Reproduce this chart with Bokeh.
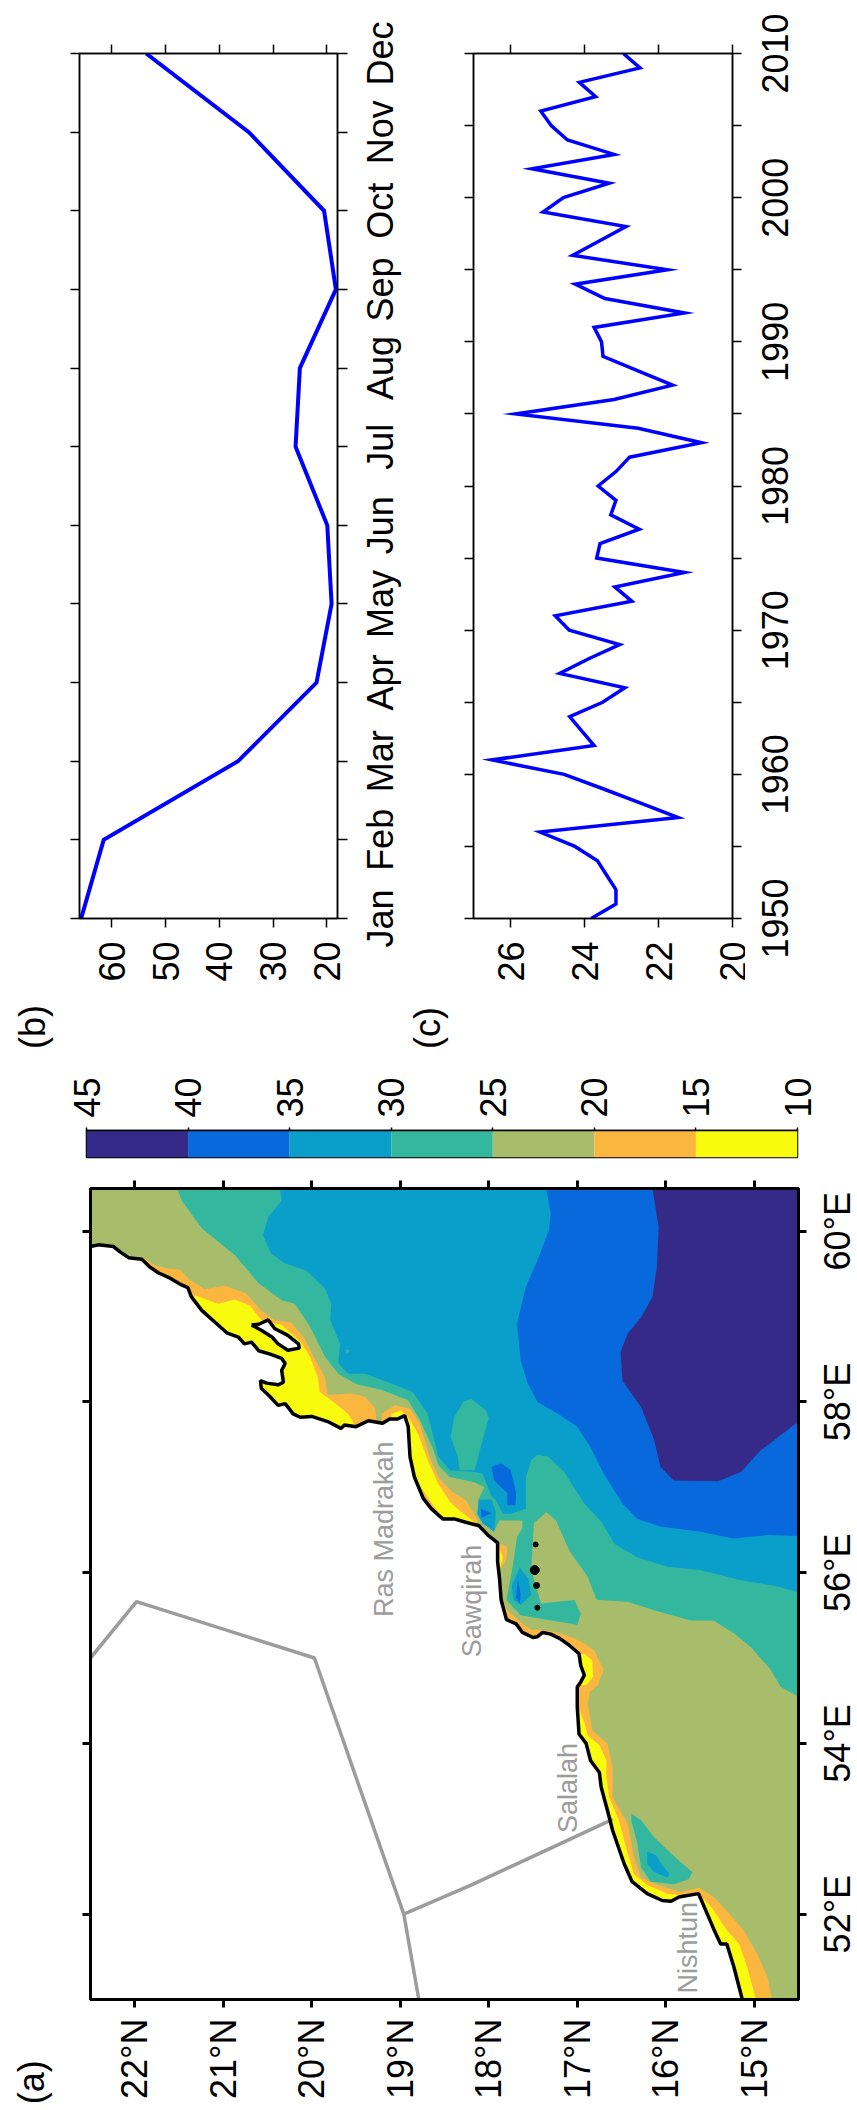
from math import pi
from bokeh.plotting import figure
from bokeh.models import LinearAxis, FixedTicker, Range1d, Label
from bokeh.layouts import column, row
from bokeh.core.properties import value
from bokeh.embed import file_html
from bokeh.resources import INLINE

# ---------- series ----------
months = ["Jan","Feb","Mar","Apr","May","Jun","Jul","Aug","Sep","Oct","Nov","Dec"]
month_idx = list(range(1, 13))
monthly = [65.7, 61.5, 36.5, 21.9, 19.1, 19.9, 25.8, 25.0, 18.3, 20.5, 34.5, 53.6]

years = list(range(1950, 2011))
annual = [23.82, 23.15, 23.15, 23.40, 23.65, 24.26, 25.20, 21.47, 22.48, 23.50,
          24.55, 26.50, 23.74, 24.07, 24.40, 23.51, 22.91, 24.67, 23.90, 23.05,
          24.41, 24.79, 22.72, 23.18, 21.30, 23.67, 23.58, 22.52, 23.29, 23.15,
          23.63, 23.15, 22.78, 20.84, 22.55, 25.86, 23.20, 21.62, 22.57, 23.50,
          23.54, 23.74, 21.30, 23.45, 24.25, 21.76, 24.32, 23.60, 22.88, 25.12,
          24.57, 23.33, 25.42, 23.20, 24.46, 24.90, 25.18, 23.70, 24.14, 22.50, 22.95]

# ---------- colour levels ----------
levels = [45, 40, 35, 30, 25, 20, 15, 10]
c_purple, c_blue2, c_blue1, c_teal, c_olive, c_orange, c_yellow = (
    "#352a87", "#0769dc", "#0a9ecb", "#33b79f", "#a7bd6b", "#fbb63f", "#f9fb0e")
level_colors = [c_purple, c_blue2, c_blue1, c_teal, c_olive, c_orange, c_yellow]

# ---------- map: (lat, lon) outlines ----------
coast = [(22.5,59.82),(22.41,59.84),(22.24,59.82),(22.17,59.76),(22.07,59.69),(21.92,59.67),(21.83,59.58),
 (21.73,59.51),(21.62,59.46),(21.49,59.38),(21.40,59.34),(21.36,59.23),(21.24,59.07),(21.09,58.93),
 (20.96,58.81),(20.83,58.76),(20.76,58.68),(20.68,58.70),(20.60,58.60),(20.47,58.56),(20.34,58.51),
 (20.30,58.45),(20.34,58.37),(20.32,58.23),(20.38,58.20),(20.51,58.22),(20.58,58.25),(20.57,58.16),
 (20.47,58.06),(20.38,57.96),(20.30,57.98),(20.21,57.86),(20.13,57.82),(20.00,57.83),(19.82,57.77),
 (19.67,57.69),(19.63,57.73),(19.50,57.71),(19.36,57.78),(19.20,57.75),(19.12,57.80),(19.03,57.80),
 (18.95,57.84),(18.91,57.71),(18.89,57.36),(18.84,57.12),(18.74,56.87),(18.65,56.75),(18.52,56.63),
 (18.39,56.63),(18.26,56.59),(18.11,56.55),(18.01,56.44),(17.90,56.35),(17.90,56.13),(17.88,55.95),
 (17.86,55.68),(17.80,55.45),(17.69,55.40),(17.62,55.30),(17.50,55.24),(17.45,55.25),(17.39,55.30),
 (17.30,55.28),(17.20,55.23),(17.09,55.15),(16.98,55.05),(16.96,54.91),(16.92,54.80),(16.96,54.72),
 (17.00,54.66),(17.00,54.43),(16.98,54.11),(16.90,54.00),(16.85,53.80),(16.75,53.66),(16.73,53.49),
 (16.66,53.22),(16.60,52.98),(16.47,52.59),(16.38,52.38),(16.21,52.24),(16.04,52.16),(15.94,52.15),
 (15.85,52.20),(15.63,52.24),(15.53,52.00),(15.46,51.83),(15.38,51.65),(15.31,51.65),(15.23,51.38),
 (15.14,51.02),(15.13,51.0)]
land_close = [(22.5,51.0)]
island = [(20.68,58.90),(20.60,58.91),(20.49,58.96),(20.42,58.86),(20.27,58.78),(20.15,58.68),(20.14,58.63),
 (20.27,58.605),(20.38,58.68),(20.45,58.76),(20.57,58.84),(20.66,58.89),(20.68,58.90)]

teal_main = [(21.52,60.5),(21.47,60.36),(21.24,60.03),(20.87,59.72),(20.60,59.39),(20.34,59.19),(20.19,59.15),
 (20.02,58.88),(19.85,58.53),(19.70,58.33),(19.50,58.21),(19.21,58.14),(18.91,58.02),(18.78,57.79),
 (18.63,57.45),(18.57,57.26),(18.44,57.12),(18.16,57.06),(18.05,57.00),(18.12,56.85),(18.11,56.65),
 (17.94,56.48),(17.88,56.61),(17.62,56.61),(17.62,56.52),(17.68,56.42),(17.73,56.07),(17.80,55.68),
 (17.64,55.50),(17.41,55.46),(17.0,55.39),(16.96,55.52),(17.03,55.68),(17.41,55.64),(17.52,56.03),
 (17.49,56.58),(17.35,56.71),(17.24,56.61),(17.09,56.26),(16.88,55.95),(16.79,55.70),(16.77,55.68),
 (16.43,55.66),(16.13,55.56),(15.72,55.44),(15.46,55.44),(15.23,55.29),(15.04,55.13),(14.82,54.87),
 (14.70,54.66),(14.5,54.55),(14.5,60.5)]
blue1_main = [(20.36,60.5),(20.34,60.36),(20.49,60.17),(20.55,59.95),(20.46,59.74),(20.30,59.62),(20.06,59.54),
 (19.85,59.33),(19.78,59.15),(19.79,58.96),(19.68,58.68),(19.70,58.45),(19.59,58.33),(19.40,58.33),
 (19.06,58.20),(18.86,58.12),(18.69,57.86),(18.57,57.36),(18.44,57.20),(18.16,57.18),(18.07,57.16),
 (17.97,56.90),(17.92,56.85),(17.84,56.69),(17.75,56.69),(17.58,56.75),(17.58,57.12),(17.52,57.32),
 (17.45,57.38),(17.33,57.36),(17.15,57.18),(16.92,56.81),(16.73,56.60),(16.58,56.34),(16.32,56.18),
 (15.98,56.07),(15.61,56.03),(15.15,55.91),(14.78,55.85),(14.5,55.77),(14.5,60.5)]
blue2_main = [(17.35,60.5),(17.30,60.21),(17.32,60.01),(17.45,59.66),(17.58,59.35),(17.68,58.92),(17.64,58.49),
 (17.56,58.22),(17.45,58.0),(17.22,57.86),(17.0,57.71),(16.85,57.47),(16.70,57.16),(16.49,56.81),
 (16.32,56.63),(16.06,56.54),(15.61,56.48),(15.23,56.40),(14.85,56.44),(14.5,56.43),(14.5,60.5)]
purple_main = [(16.15,60.5),(16.08,60.05),(16.10,59.58),(16.15,59.23),(16.28,58.99),(16.43,58.80),(16.51,58.59),
 (16.49,58.25),(16.28,57.94),(16.13,57.55),(16.06,57.24),(15.91,57.08),(15.41,57.07),(15.15,57.18),
 (14.93,57.43),(14.5,57.77),(14.5,60.5)]

teal_blob = [(18.20,58.04),(18.03,57.90),(18.0,57.81),(18.07,57.55),(18.16,57.20),(18.33,57.20),(18.35,57.36),
 (18.43,57.59),(18.39,57.82),(18.29,58.0)]
teal_dot = [(19.61,58.62),(19.56,58.60),(19.61,58.57)]
teal_salalah = [(16.39,53.18),(16.28,53.10),(16.13,52.90),(15.94,52.71),(15.70,52.49),(15.74,52.41),(15.91,52.35),
 (16.17,52.38),(16.28,52.55),(16.32,52.82),(16.39,53.10)]
blue1_salalah = [(16.21,52.73),(16.11,52.69),(16.04,52.57),(15.96,52.47),(15.98,52.43),(16.13,52.49),(16.21,52.59)]
blue1_cape = [(18.11,56.85),(17.97,56.86),(17.92,56.71),(17.94,56.48),(18.07,56.58),(18.13,56.69)]
blue2_cape = [(18.09,56.75),(17.97,56.70),(18.08,56.64)]
blue2_blob = [(17.97,57.24),(17.86,57.28),(17.75,57.20),(17.69,56.93),(17.70,56.79),(17.79,56.79),(17.79,56.93),(17.94,57.08)]
blue1_bay = [(17.65,56.06),(17.55,55.93),(17.52,55.74),(17.64,55.62),(17.72,55.68),(17.74,55.85)]
blue2_bay = [(17.67,55.93),(17.64,55.74),(17.65,55.64),(17.69,55.71)]

orange_a = [(21.90,59.69),(21.77,59.60),(21.62,59.56),(21.49,59.55),(21.38,59.43),(21.21,59.32),(20.98,59.36),
 (20.74,59.27),(20.57,59.07),(20.42,58.96),(20.23,58.93),(20.08,58.74),(19.98,58.53),(19.85,58.29),
 (19.82,58.08),(19.55,58.10),(19.40,58.06),(19.29,57.94),(19.27,57.84),(19.3,57.5),(20.5,57.5),(22.0,59.4)]
orange_b = [(19.21,57.86),(19.06,57.96),(18.89,57.92),(18.78,57.75),(18.67,57.36),(18.57,57.12),(18.42,56.95),
 (18.26,56.85),(18.12,56.61),(18.3,56.3),(19.2,57.5)]
orange_c = [(17.87,56.34),(17.79,56.30),(17.80,56.16),(17.86,56.05),(18.0,56.2)]
orange_d = [(17.84,55.64),(17.77,55.54),(17.64,55.42),(17.52,55.33),(17.41,55.33),(17.22,55.30),(17.03,55.23),
 (16.92,55.17),(16.81,55.09),(16.70,54.86),(16.77,54.68),(16.86,54.60),(16.88,54.46),(16.83,54.15),
 (16.66,54.00),(16.60,53.72),(16.60,53.37),(16.43,53.06),(16.36,52.67),(16.28,52.43),(16.09,52.34),
 (15.83,52.26),(15.62,52.31),(15.46,52.20),(15.31,52.04),(15.12,51.81),(14.97,51.54),(14.85,51.26),
 (14.80,51.0),(15.5,51.0),(16.5,52.5),(17.3,54.0),(18.0,55.6)]
yellow_a = [(21.32,59.25),(21.06,59.15),(20.87,59.20),(20.70,59.13),(20.57,58.96),(20.34,58.90),(20.12,58.70),
 (20.02,58.53),(19.93,58.29),(19.91,58.12),(19.78,58.02),(19.59,57.86),(19.53,57.76),(19.5,57.5),(20.5,57.5),(21.4,59.0)]
yellow_b = [(19.10,57.86),(18.99,57.90),(18.91,57.82),(18.80,57.63),(18.69,57.32),(18.57,57.04),(18.44,56.83),
 (18.31,56.71),(18.16,56.59),(18.3,56.3),(19.1,57.5)]
yellow_c = [(17.88,56.28),(17.84,56.18),(17.87,56.07),(18.0,56.2)]
yellow_d = [(16.92,55.05),(16.83,54.97),(16.82,54.78),(16.90,54.68),(17.2,54.7),(17.2,55.0)]
yellow_e = [(16.98,54.41),(16.92,54.25),(16.88,54.09),(16.75,53.98),(16.67,53.80),(16.67,53.61),(16.64,53.37),
 (16.53,53.10),(16.45,52.79),(16.36,52.47),(16.21,52.34),(15.98,52.24),(15.83,52.22),(15.9,52.0),(16.5,52.3),(17.0,54.0)]
yellow_f = [(15.57,52.18),(15.47,52.06),(15.31,51.81),(15.17,51.65),(15.08,51.38),(14.98,51.0),(15.5,51.0),(15.6,52.0)]

border_main = [(22.5,55.0),(21.98,55.66),(19.97,55.0),(18.96,52.0),(18.79,51.0)]
border_branch = [(18.96,52.0),(18.2,52.34),(16.60,53.11)]

isle_lat = [17.47, 17.48, 17.46, 17.45]
isle_lon = [56.33, 56.03, 55.85, 55.59]
isle_size = [5, 9, 6, 5]

place_names = ["Ras Madrakah", "Sawqirah", "Salalah", "Nishtun"]
place_lat = [19.18, 18.19, 17.11, 15.75]
place_lon = [55.48, 55.01, 52.95, 51.07]

lat_ticks = [22, 21, 20, 19, 18, 17, 16, 15]
lon_ticks = [60, 58, 56, 54, 52]

FONT = "Liberation Sans"
FS = "36px"
GRAY = "#9c9c9c"


def make_axis(cls_ticks, labels, width, tick, standoff):
    ax = LinearAxis(ticker=FixedTicker(ticks=cls_ticks))
    ax.major_tick_in = 0
    ax.major_tick_out = tick
    ax.minor_tick_line_color = None
    ax.axis_line_width = width
    ax.major_tick_line_width = width
    ax.axis_line_color = "black"
    ax.major_tick_line_color = "black"
    ax.major_label_text_font = FONT
    ax.major_label_text_font_size = FS
    ax.major_label_text_color = "black"
    ax.major_label_orientation = pi / 2
    ax.major_label_standoff = standoff
    ax.major_label_overrides = {t: labels.get(t, "") for t in cls_ticks}
    return ax


def base_fig(w, h, xr, yr, left, right, top, bottom):
    p = figure(width=w, height=h, x_range=Range1d(*xr), y_range=Range1d(*yr),
               output_backend="svg", toolbar_location=None,
               x_axis_location=None, y_axis_location=None,
               min_border_left=left, min_border_right=right,
               min_border_top=top, min_border_bottom=bottom)
    p.grid.visible = False
    return p


def label_strip(w, h, yr, ticks, labels, baseline_frac):
    """A narrow frameless figure that shares the neighbour's vertical scale and holds its tick labels."""
    s = base_fig(w, h, (0, 1), yr, 0, 0, 0, 0)
    s.outline_line_color = None
    s.text([baseline_frac] * len(ticks), ticks, text=labels, angle=pi/2, text_color="black",
           text_font=value(FONT), text_font_size=FS, text_align="center", text_baseline="alphabetic")
    # wrapped so that the row does not line its frame up with the neighbour's
    return column(s, spacing=0)


def tag(p, x, y, text, side):
    p.add_layout(Label(x=x, y=y, text=text, angle=pi/2, text_font=FONT, text_font_size=FS,
                       text_color="black", text_align="center", text_baseline="middle"), side)


# ---------- panel b ----------
b = base_fig(350, 1060, (66, 18), (1, 12), 79, 13, 53, 142)
val_b = [60, 50, 40, 30, 20]
b.add_layout(make_axis(val_b, {v: str(v) for v in val_b}, 1.5, 9, 14), "below")
b.add_layout(make_axis(val_b, {}, 1.5, 9, 0), "above")
b.add_layout(make_axis(month_idx, {}, 1.5, 9, 0), "left")
b.add_layout(make_axis(month_idx, {}, 1.5, 10, 0), "right")
b.outline_line_color = "black"
b.outline_line_width = 1.5
b.line(monthly, month_idx, line_color="#0000ff", line_width=4, line_join="miter")
tag(b, 74.8, -0.38, "(b)", "below")
b_labels = label_strip(55, 1060, (-0.806, 12.674), month_idx, months, 0.54)

# ---------- panel c ----------
c = base_fig(340, 1060, (27, 20), (1950, 2010), 68, 13, 53, 142)
val_c = [26, 24, 22, 20]
yr_ticks = list(range(1950, 2011, 5))
yr_labels = [y for y in yr_ticks if y % 10 == 0]
c.add_layout(make_axis(val_c, {v: str(v) for v in val_c}, 1.5, 9, 14), "below")
c.add_layout(make_axis(val_c, {}, 1.5, 9, 0), "above")
c.add_layout(make_axis(yr_ticks, {}, 1.5, 9, 0), "left")
c.add_layout(make_axis(yr_ticks, {}, 1.5, 9, 0), "right")
c.outline_line_color = "black"
c.outline_line_width = 1.5
c.line(annual, years, line_color="#0000ff", line_width=3.5, line_join="miter")
tag(c, 28.24, 1942.4, "(c)", "below")
c_labels = label_strip(112, 1060, (1940.15, 2013.68), yr_labels, [str(y) for y in yr_labels], 0.265)

# ---------- colour bar ----------
cb = base_fig(857, 105, (45, 10), (0, 1), 86, 60, 70, 8)
cb.quad(left=levels[:-1], right=levels[1:], bottom=0, top=1, fill_color=level_colors, line_color=None)
cb.add_layout(make_axis(levels, {v: str(v) for v in levels}, 1.5, 3, 10), "above")
cb.outline_line_color = "black"
cb.outline_line_width = 1.5

# ---------- map ----------
m = base_fig(808, 945, (22.5, 14.5), (51, 60.5), 90, 10, 23, 111)
m.background_fill_color = c_olive


def fill(poly, color):
    m.patch([q[0] for q in poly], [q[1] for q in poly], fill_color=color, line_color=None)


for poly, color in [(teal_main, c_teal), (blue1_main, c_blue1), (blue2_main, c_blue2), (purple_main, c_purple),
                    (teal_blob, c_teal), (teal_dot, c_teal), (teal_salalah, c_teal), (blue1_salalah, c_blue1),
                    (blue1_cape, c_blue1), (blue2_cape, c_blue2), (blue2_blob, c_blue2),
                    (blue1_bay, c_blue1), (blue2_bay, c_blue2),
                    (orange_a, c_orange), (orange_b, c_orange), (orange_c, c_orange), (orange_d, c_orange),
                    (yellow_a, c_yellow), (yellow_b, c_yellow), (yellow_c, c_yellow), (yellow_d, c_yellow),
                    (yellow_e, c_yellow), (yellow_f, c_yellow),
                    (coast + land_close, "white"), (island, "white")]:
    fill(poly, color)

m.line([q[0] for q in border_main], [q[1] for q in border_main], line_color=GRAY, line_width=3.5)
m.line([q[0] for q in border_branch], [q[1] for q in border_branch], line_color=GRAY, line_width=3.5)
m.line([q[0] for q in coast], [q[1] for q in coast], line_color="black", line_width=3.5)
m.line([q[0] for q in island], [q[1] for q in island], line_color="black", line_width=3.5)
m.scatter(isle_lat, isle_lon, size=isle_size, color="black")
m.text(place_lat, place_lon, text=place_names, angle=pi/2, text_color=GRAY,
       text_font=value(FONT), text_font_size="27px", text_align="left", text_baseline="alphabetic")

m.add_layout(make_axis(lat_ticks, {v: f"{v}°N" for v in lat_ticks}, 3, 8, 11), "below")
m.add_layout(make_axis(lat_ticks, {}, 3, 8, 0), "above")
m.add_layout(make_axis(lon_ticks, {}, 3, 8, 0), "left")
m.add_layout(make_axis(lon_ticks, {}, 3, 8, 0), "right")
m.outline_line_color = "black"
m.outline_line_width = 3
tag(m, 23.17, 50.03, "(a)", "left")
m_labels = label_strip(49, 945, (49.70, 60.77), lon_ticks, [f"{v}°E" for v in lon_ticks], 0.592)

layout = column(row(b, b_labels, c, c_labels, spacing=0), cb, row(m, m_labels, spacing=0), spacing=0)
open("out.html", "w").write(file_html(layout, INLINE))
